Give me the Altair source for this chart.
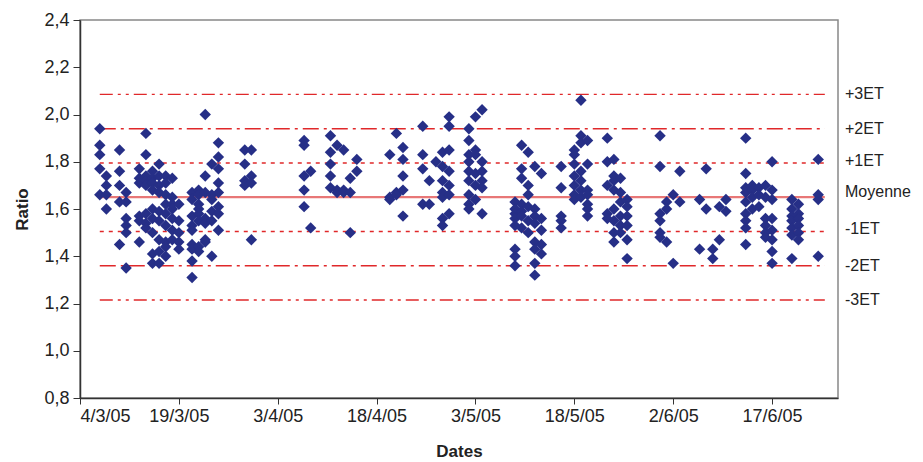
import altair as alt
import pandas as pd

# ---- data ----
col_dates = [
    "2005-03-07", "2005-03-08", "2005-03-10", "2005-03-11", "2005-03-13", "2005-03-14",
    "2005-03-15", "2005-03-16", "2005-03-17", "2005-03-18", "2005-03-19", "2005-03-21",
    "2005-03-22", "2005-03-23", "2005-03-24", "2005-03-25", "2005-03-29", "2005-03-30",
    "2005-04-07", "2005-04-08", "2005-04-11", "2005-04-12", "2005-04-13", "2005-04-14",
    "2005-04-15", "2005-04-20", "2005-04-21", "2005-04-22", "2005-04-25", "2005-04-26",
    "2005-04-27", "2005-04-28", "2005-04-29", "2005-05-02", "2005-05-03", "2005-05-04",
    "2005-05-09", "2005-05-10", "2005-05-11", "2005-05-12", "2005-05-13", "2005-05-16",
    "2005-05-18", "2005-05-19", "2005-05-20", "2005-05-23", "2005-05-24", "2005-05-25",
    "2005-05-26", "2005-05-31", "2005-06-01", "2005-06-02", "2005-06-03", "2005-06-06",
    "2005-06-07", "2005-06-08", "2005-06-09", "2005-06-10", "2005-06-13", "2005-06-14",
    "2005-06-15", "2005-06-16", "2005-06-17", "2005-06-20", "2005-06-21", "2005-06-24",
]
col_values = [
    [1.94, 1.87, 1.83, 1.77, 1.66],
    [1.74, 1.70, 1.66, 1.60],
    [1.85, 1.76, 1.70, 1.63, 1.45],
    [1.67, 1.63, 1.56, 1.53, 1.50, 1.35],
    [1.77, 1.73, 1.71, 1.57, 1.55, 1.46],
    [1.92, 1.83, 1.74, 1.72, 1.70, 1.58, 1.54, 1.52],
    [1.76, 1.73, 1.71, 1.68, 1.60, 1.56, 1.50, 1.41, 1.37],
    [1.79, 1.74, 1.70, 1.67, 1.59, 1.55, 1.47, 1.42, 1.37],
    [1.74, 1.71, 1.66, 1.62, 1.58, 1.53, 1.46, 1.44, 1.40],
    [1.73, 1.65, 1.62, 1.60, 1.56, 1.51, 1.47],
    [1.62, 1.55, 1.50, 1.46, 1.43],
    [1.67, 1.64, 1.57, 1.53, 1.51, 1.45, 1.43, 1.38, 1.31],
    [1.68, 1.66, 1.62, 1.60, 1.58, 1.55, 1.44, 1.42],
    [2.00, 1.74, 1.67, 1.56, 1.54, 1.47, 1.46],
    [1.79, 1.66, 1.64, 1.59, 1.55, 1.40],
    [1.88, 1.82, 1.77, 1.71, 1.67, 1.61, 1.58, 1.51],
    [1.85, 1.79, 1.72, 1.70],
    [1.85, 1.74, 1.71, 1.47],
    [1.89, 1.87, 1.74, 1.68, 1.61],
    [1.76, 1.52],
    [1.91, 1.84, 1.79, 1.74, 1.69],
    [1.87, 1.68, 1.67],
    [1.85, 1.68, 1.67],
    [1.73, 1.67, 1.50],
    [1.81, 1.76],
    [1.83, 1.65, 1.64],
    [1.92, 1.67, 1.66],
    [1.86, 1.81, 1.74, 1.68, 1.57],
    [1.95, 1.83, 1.77, 1.62],
    [1.72, 1.62],
    [1.80],
    [1.84, 1.78, 1.72, 1.67, 1.65, 1.56, 1.53],
    [1.99, 1.95, 1.85, 1.76, 1.70, 1.66, 1.58],
    [1.94, 1.89, 1.83, 1.80, 1.76, 1.72, 1.66, 1.62, 1.60],
    [1.99, 1.85, 1.83, 1.75, 1.70, 1.64],
    [2.02, 1.80, 1.76, 1.72, 1.69, 1.58],
    [1.63, 1.60, 1.58, 1.56, 1.53, 1.43, 1.40, 1.36],
    [1.87, 1.77, 1.73, 1.62, 1.59, 1.57, 1.52],
    [1.84, 1.70, 1.66, 1.61, 1.55, 1.50],
    [1.78, 1.60, 1.57, 1.54, 1.46, 1.43, 1.37, 1.32],
    [1.75, 1.56, 1.51, 1.45, 1.41],
    [1.78, 1.69, 1.57, 1.55, 1.52],
    [1.85, 1.83, 1.79, 1.74, 1.70, 1.66, 1.64],
    [2.06, 1.91, 1.88, 1.76, 1.72, 1.68, 1.65],
    [1.89, 1.79, 1.68, 1.66, 1.62, 1.60, 1.57],
    [1.90, 1.80, 1.70, 1.58, 1.56],
    [1.81, 1.74, 1.72, 1.68, 1.60, 1.55, 1.50, 1.46],
    [1.73, 1.67, 1.63, 1.57, 1.53, 1.50],
    [1.64, 1.61, 1.57, 1.53, 1.47, 1.39],
    [1.91, 1.78, 1.58, 1.55, 1.50, 1.48],
    [1.63, 1.60, 1.46],
    [1.66, 1.37],
    [1.76, 1.63],
    [1.64, 1.43],
    [1.77, 1.60],
    [1.43, 1.39],
    [1.61, 1.47],
    [1.64, 1.59],
    [1.90, 1.75, 1.69, 1.67, 1.63, 1.58, 1.55, 1.52, 1.45],
    [1.70, 1.68, 1.65, 1.60],
    [1.69, 1.66, 1.61],
    [1.70, 1.65, 1.56, 1.53, 1.50, 1.48],
    [1.80, 1.68, 1.64, 1.56, 1.51, 1.47, 1.42, 1.37],
    [1.64, 1.60, 1.57, 1.55, 1.52, 1.49, 1.39],
    [1.62, 1.58, 1.56, 1.53, 1.50, 1.47],
    [1.81, 1.66, 1.64, 1.40],
]

ref_labels = ["+3ET", "+2ET", "+1ET", "Moyenne", "-1ET", "-2ET", "-3ET"]
ref_values = [2.085, 1.94, 1.795, 1.65, 1.505, 1.36, 1.215]
ref_label_pos = [2.085, 1.94, 1.805, 1.67, 1.515, 1.36, 1.215]
ref_styles = ["3", "2", "1", "0", "1", "2", "3"]
ref_start = "2005-03-07"
ref_end = "2005-06-25"

x_ticks = ["2005-03-04", "2005-03-19", "2005-04-03", "2005-04-18",
           "2005-05-03", "2005-05-18", "2005-06-02", "2005-06-17"]
x_domain = ["2005-03-04", "2005-06-27"]
y_ticks = [0.8, 1.0, 1.2, 1.4, 1.6, 1.8, 2.0, 2.2, 2.4]

# ---- tables ----
rows = []
for d, vals in zip(col_dates, col_values):
    for v in vals:
        rows.append({"date": d, "ratio": v})
pts = pd.DataFrame(rows)

refs = pd.DataFrame({"label": ref_labels, "value": ref_values, "labelpos": ref_label_pos,
                     "style": ref_styles, "start": ref_start, "end": ref_end})

W, H = 758, 378
FONT = "Liberation Sans"
FS = 18
RED = "#E0282A"

def utc_dt(s):
    y, m, d = [int(p) for p in s.split("-")]
    return alt.DateTime(year=y, month=m, date=d, utc=True)

xscale = alt.Scale(type="utc", domain=[utc_dt(x_domain[0]), utc_dt(x_domain[1])])
yscale = alt.Scale(domain=[0.8, 2.4], nice=False, zero=False)

x_axis = alt.Axis(
    title="Dates", values=[utc_dt(t) for t in x_ticks],
    labelExpr="utcdate(datum.value) + '/' + (utcmonth(datum.value) + 1) + '/' + utcFormat(datum.value, '%y')",
    grid=False, tickSize=6, tickColor="#333", domainColor="#333", domainWidth=1.5,
    labelFont=FONT, labelFontSize=FS, labelColor="#222", labelPadding=3,
    titleFont=FONT, titleFontSize=17, titleFontWeight="bold", titleColor="#222", titlePadding=18,
)
y_axis = alt.Axis(
    title="Ratio", values=y_ticks,
    labelExpr="replace(format(datum.value, '.1f'), '.', ',')",
    grid=False, tickSize=7, tickColor="#333", domainColor="#333", domainWidth=1.5,
    labelFont=FONT, labelFontSize=FS, labelColor="#222", labelPadding=4,
    titleFont=FONT, titleFontSize=17, titleFontWeight="bold", titleColor="#222", titlePadding=12,
)

points = alt.Chart(pts).mark_point(
    shape="diamond", filled=True, size=130, color="#262F87", opacity=1
).encode(
    x=alt.X("date:T", scale=xscale, axis=x_axis),
    y=alt.Y("ratio:Q", scale=yscale, axis=y_axis),
)

def ref_layer(style, dash, color, width):
    base = alt.Chart(refs).transform_filter(alt.datum.style == style)
    kw = dict(color=color, strokeWidth=width)
    if dash:
        kw["strokeDash"] = dash
    return base.mark_rule(**kw).encode(
        x=alt.X("start:T", scale=xscale),
        x2="end:T",
        y=alt.Y("value:Q", scale=yscale),
    )

lines = [
    ref_layer("3", [13, 5, 3, 5, 3, 5], RED, 1.4),
    ref_layer("2", [16, 5, 3, 5], RED, 1.4),
    ref_layer("1", [4, 5], RED, 1.4),
    ref_layer("0", None, "#E87777", 2.2),
]

labels = alt.Chart(refs).mark_text(
    align="left", baseline="middle", font=FONT, fontSize=16, color="#222"
).encode(
    x=alt.value(W + 7),
    y=alt.Y("labelpos:Q", scale=yscale),
    text="label:N",
)

chart = alt.layer(*lines, points, labels).properties(
    width=W, height=H,
    autosize=alt.AutoSizeParams(type="none"),
    padding={"left": 72, "top": 12, "right": 76, "bottom": 62},
).configure_view(stroke="#888", strokeWidth=1.5)

chart.save("out.html", embed_options={"renderer": "svg", "actions": False})
